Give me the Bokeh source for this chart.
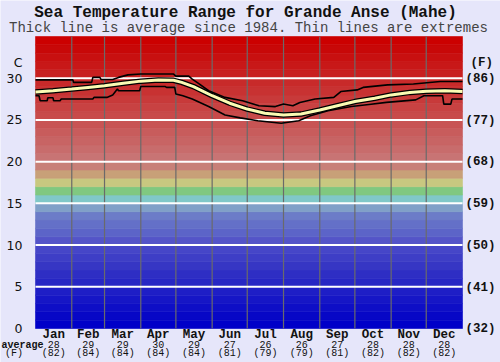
from bokeh.plotting import figure
from bokeh.models import Range1d
from bokeh.core.properties import value
from bokeh.embed import file_html
from bokeh.resources import INLINE
import numpy as np

# ---------------- data ----------------
months = ["Jan", "Feb", "Mar", "Apr", "May", "Jun",
          "Jul", "Aug", "Sep", "Oct", "Nov", "Dec"]
month_days = [31, 28, 31, 30, 31, 30, 31, 31, 30, 31, 30, 31]
avg_c = [28, 29, 29, 30, 29, 27, 26, 26, 27, 28, 28, 28]
avg_f = [82, 84, 84, 84, 84, 81, 79, 79, 81, 82, 82, 82]
c_ticks = [0, 5, 10, 15, 20, 25, 30]

avg_day = [0, 15, 31, 45, 59, 75, 90, 105, 118, 125, 135, 151, 166, 181,
           196, 212, 227, 243, 258, 273, 290, 304, 320, 334, 350, 365]
avg_temp = [28.35, 28.5, 28.7, 28.9, 29.1, 29.4, 29.65, 29.8, 29.75, 29.5,
            29.0, 27.9, 27.0, 26.3, 25.8, 25.6, 25.7, 26.2, 26.7, 27.2,
            27.6, 28.0, 28.3, 28.45, 28.5, 28.4]

max_day = [0, 32, 32.5, 48, 49, 55, 56, 66, 71, 79, 90, 118, 120, 131, 134,
           139, 148, 162, 177, 191, 205, 212, 220, 226, 239, 255, 261, 275,
           280, 301, 323, 346, 365]
max_temp = [29.8, 29.8, 29.5, 29.5, 30.1, 30.1, 29.85, 29.85, 30.1, 30.4,
            30.5, 30.5, 30.25, 30.25, 29.9, 29.4, 28.5, 27.7, 27.3, 26.7,
            26.6, 26.9, 26.7, 27.1, 27.5, 27.7, 28.4, 28.6, 28.9, 29.2,
            29.3, 29.6, 29.6]

min_day = [0, 3, 4, 10, 10.5, 15, 15.5, 21, 22, 49, 50, 61, 66, 70, 71, 89,
           90, 111, 112, 119, 120, 126, 134, 148, 162, 175, 190, 210, 225,
           235, 250, 270, 285, 300, 325, 332, 348, 349, 355, 356, 365]
min_temp = [27.9, 27.9, 27.3, 27.3, 27.65, 27.65, 27.3, 27.3, 27.5, 27.5,
            27.7, 27.7, 28.0, 28.7, 28.5, 28.5, 29.0, 29.0, 28.9, 28.9,
            28.1, 27.9, 27.5, 26.6, 25.6, 25.25, 24.9, 24.6, 24.9, 25.5,
            26.1, 26.6, 26.85, 27.1, 27.4, 27.9, 27.9, 26.9, 26.9, 27.5, 27.5]

# colour scale (one band per degree C, 0..35)
band_colors = [
    "#0000c8", "#0707c6", "#0e0ec6", "#1616c6", "#1e1ec6",
    "#2626c4", "#2e2ec4", "#3636c4", "#3e3ec6", "#4646c8",
    "#5454c8", "#5c64c8", "#6470c8", "#6c7cc8", "#80a0c8",
    "#80c8c8", "#80c880", "#c8c880", "#c8a078", "#c88078",
    "#c87474", "#c86c6c", "#c86464", "#c85c5c", "#c85454",
    "#c84a4a", "#c84242", "#c83a3a", "#c83232", "#c82a2a",
    "#c82020", "#c81818", "#c81010", "#c80808", "#cc0000"]

# ---------------- layout ----------------
W, H = 500, 362
PX_L, PX_R, PX_T, PX_B = 35, 462, 36, 328      # plot area in pixels
DAYS = 365
T_TOP = len(band_colors)                        # 35 C at top of plot area
sx = (PX_R - PX_L) / DAYS
sy = (PX_B - PX_T) / T_TOP


def dx(px):
    return (px - PX_L) / sx


def dy(py):
    return (PX_B - py) / sy


BG = "#e6e6fa"
MONO = "Liberation Mono"
SANS = "DejaVu Sans"
INK = "#111111"

edges = np.cumsum([0] + month_days)
mids = [(a + b) / 2 for a, b in zip(edges[:-1], edges[1:])]

p = figure(width=W, height=H, x_range=Range1d(dx(0), dx(W)),
           y_range=Range1d(dy(H), dy(0)), output_backend="svg",
           toolbar_location=None, x_axis_location=None, y_axis_location=None,
           min_border=0)
p.border_fill_color = BG
p.background_fill_color = BG
p.outline_line_color = None
p.xgrid.visible = False
p.ygrid.visible = False

# colour bands
p.quad(left=0, right=DAYS, bottom=list(range(T_TOP)),
       top=list(range(1, T_TOP + 1)), fill_color=band_colors,
       line_color=band_colors, line_width=0.6)

# month separators and degree lines
seps = list(edges[1:-1])
p.segment(x0=seps, x1=seps, y0=0, y1=T_TOP, line_color="#6a6a6a",
          line_width=1.2)
p.segment(x0=0, x1=DAYS, y0=c_ticks[1:], y1=c_ticks[1:],
          line_color="white", line_width=2)

# extremes and average
p.line(max_day, max_temp, line_color="black", line_width=1.6)
p.line(min_day, min_temp, line_color="black", line_width=1.6)
p.line(avg_day, avg_temp, line_color="black", line_width=5.5)
p.line(avg_day, avg_temp, line_color="#fbfbb4", line_width=3)

# left (C) tick labels
p.text(x=dx(22), y=c_ticks, text=[str(c) for c in c_ticks],
       text_align="right", text_baseline="middle", text_font=value(SANS),
       text_font_size="12.5px", text_color=INK)
p.text(x=[dx(22)], y=[dy(61.5)], text=["C"], text_align="right",
       text_baseline="middle", text_font=value(SANS),
       text_font_size="12.5px", text_color=INK)

# right (F) tick labels
p.text(x=dx(465), y=[c - 0.1 for c in c_ticks],
       text=["(%d)" % round(c * 9 / 5 + 32) for c in c_ticks],
       text_align="left", text_baseline="middle", text_font=value(MONO),
       text_font_style="bold", text_font_size="12.5px", text_color=INK)
p.text(x=[dx(470)], y=[dy(62.5)], text=["(F)"], text_align="left",
       text_baseline="middle", text_font=value(MONO),
       text_font_style="bold", text_font_size="12.5px", text_color=INK)

# month names and monthly averages
p.text(x=mids, y=dy(334), text=months, text_align="center",
       text_baseline="middle", text_font=value(MONO),
       text_font_style="bold", text_font_size="12.5px", text_color=INK)
p.text(x=mids, y=dy(344), text=[str(v) for v in avg_c],
       text_align="center", text_baseline="middle", text_font=value(MONO),
       text_font_size="10px", text_color=INK)
p.text(x=mids, y=dy(352.5), text=["(%d)" % v for v in avg_f],
       text_align="center", text_baseline="middle", text_font=value(MONO),
       text_font_size="10px", text_color=INK)
p.text(x=[dx(22)], y=[dy(344.5)], text=["average"], text_align="center",
       text_baseline="middle", text_font=value(MONO),
       text_font_style="bold", text_font_size="10px", text_color=INK)
p.text(x=[dx(13.5)], y=[dy(352.5)], text=["(F)"], text_align="center",
       text_baseline="middle", text_font=value(MONO),
       text_font_size="10px", text_color=INK)

# titles
p.text(x=[dx(245)], y=[dy(12)],
       text=["Sea Temperature Range for Grande Anse (Mahe)"],
       text_align="center", text_baseline="middle", text_font=value(MONO),
       text_font_style="bold", text_font_size="16px", text_color=INK)
p.text(x=[dx(248)], y=[dy(27.5)],
       text=["Thick line is average since 1984. Thin lines are extremes"],
       text_align="center", text_baseline="middle", text_font=value(MONO),
       text_font_size="14px", text_color="#444444")

open("out.html", "w").write(file_html(p, INLINE))
